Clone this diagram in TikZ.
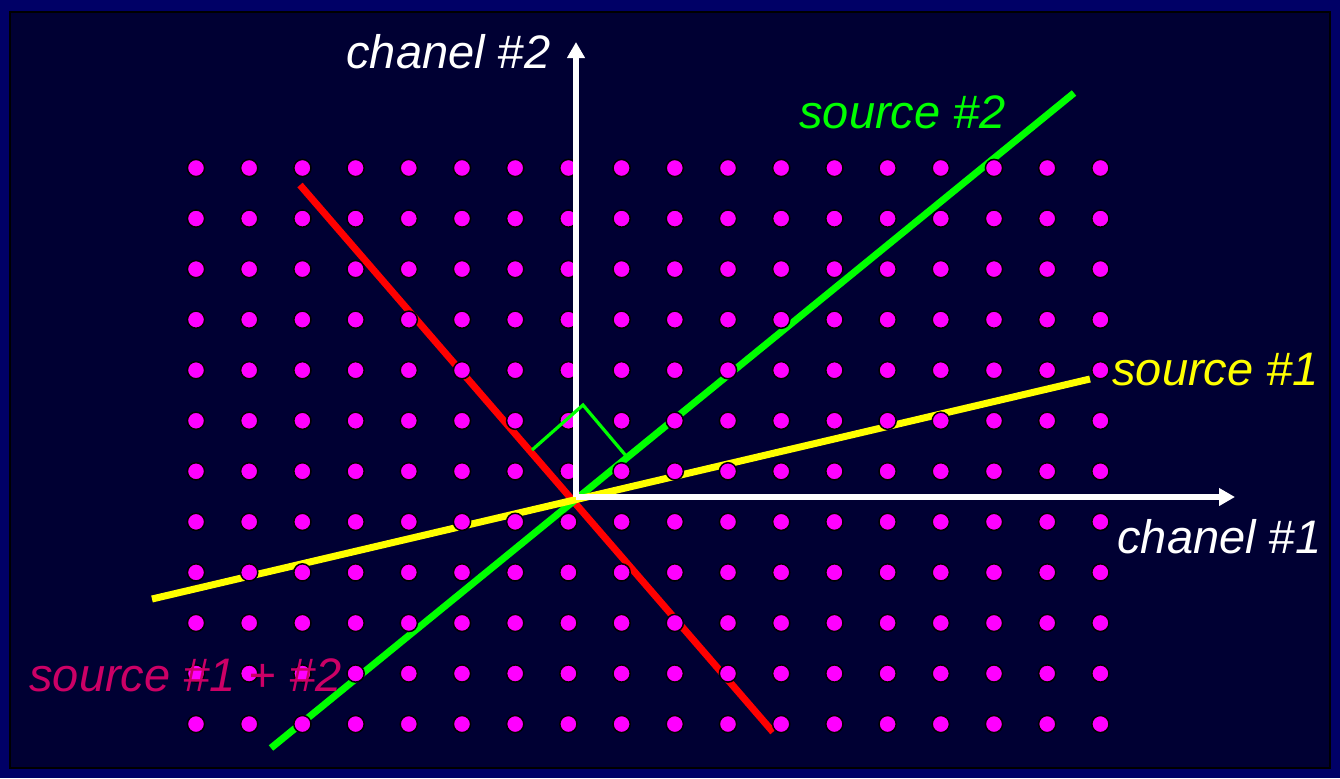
\documentclass[tikz,border=0pt]{standalone}
\usepackage{fontspec}
\setmainfont{Liberation Sans}
\usetikzlibrary{arrows.meta}
\definecolor{bgin}{RGB}{0,0,51}
\definecolor{bgout}{RGB}{0,0,102}
\definecolor{mag}{RGB}{255,0,255}
\definecolor{sumcol}{RGB}{204,0,102}
\definecolor{srcgreen}{RGB}{0,255,0}
\definecolor{srcyellow}{RGB}{255,255,0}
\definecolor{srcred}{RGB}{255,0,0}
\begin{document}
\begin{tikzpicture}[x=0.5pt,y=-0.5pt,
  dot/.style={circle, fill=mag, draw=black, line width=0.75pt, minimum size=8.6pt, inner sep=0pt},
  lbl/.style={anchor=base west, inner sep=0pt, font=\itshape\fontsize{23.5}{28}\selectfont},
  axisline/.style={white, line width=2.6pt, -{Triangle[length=8pt,width=8.5pt]}},
  srcline/.style={line width=3.5pt},
  anglemark/.style={srcgreen, line width=1.6pt}]
% background
\fill[bgout] (0,0) rectangle (1340,778);
\fill[bgin] (10,12) rectangle (1330,768);
\draw[black, line width=1pt] (10,12) rectangle (1330,768);
\useasboundingbox (0,0) rectangle (1340,778);
% coordinates
\coordinate (O) at (576,497);
\coordinate (Ytop) at (576,42);
\coordinate (Xend) at (1235,497);
\coordinate (r1) at (300,185);
\coordinate (r2) at (773,732);
\coordinate (g1) at (271,748);
\coordinate (g2) at (1074,93);
\coordinate (y1) at (152,599);
\coordinate (y2) at (1090,379);
\coordinate (a1) at (532,450);
\coordinate (a2) at (583,405);
\coordinate (a3) at (627,457);
% source lines
\draw[srcline, srcred] (r1) -- (r2);
\draw[srcline, srcgreen] (g1) -- (g2);
\draw[srcline, srcyellow] (y1) -- (y2);
% dots
\foreach \i in {0,...,17}{
  \foreach \j in {0,...,11}{
    \node[dot] (d-\i-\j) at ({196+53.2*\i},{168+50.55*\j}) {};
  }
}
% axes
\draw[axisline] (O) -- (Ytop);
\draw[axisline] (O) -- (Xend);
% right-angle mark
\draw[anglemark] (a1) -- (a2) -- (a3);
% labels
\node[lbl, white] (ch2) at (346,68) {chanel \#2};
\node[lbl, white] (ch1) at (1117,553) {chanel \#1};
\node[lbl, srcgreen] (s2) at (799,128) {source \#2};
\node[lbl, srcyellow] (s1) at (1112,385) {source \#1};
\node[lbl, sumcol] (s12) at (29,691) {source \#1 + \#2};
\end{tikzpicture}
\end{document}
